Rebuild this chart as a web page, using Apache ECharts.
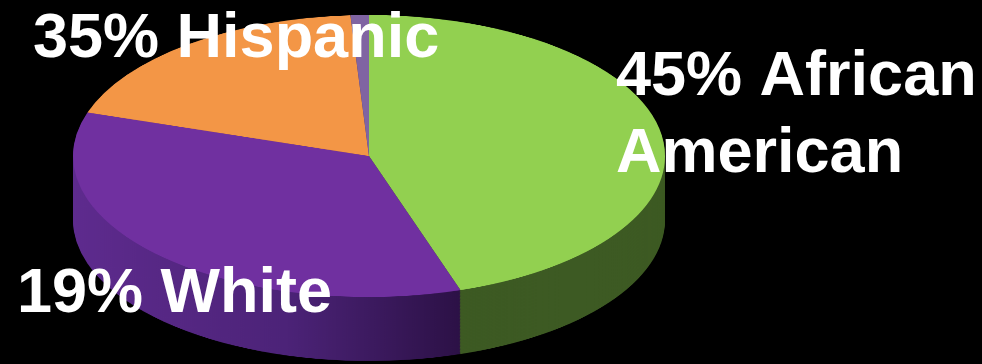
<!DOCTYPE html>
<html>
<head>
<meta charset="utf-8">
<script src="https://cdn.jsdelivr.net/npm/echarts@6/dist/echarts.min.js"></script>
<style>
html,body{margin:0;padding:0;background:#000;width:982px;height:364px;overflow:hidden;}
#pieWrap{position:absolute;left:0;top:0;width:982px;height:364px;overflow:hidden;}
#pie{position:absolute;left:0;top:0;width:982px;transform-origin:0 0;}
#txt{position:absolute;left:0;top:0;width:982px;height:364px;}
</style>
</head>
<body>
<div id="pieWrap"><div id="pie"></div></div>
<div id="txt"></div>
<script>
// Data (clockwise from 12 o'clock)
var categories = ['African American', 'White', 'Hispanic', 'Other'];
var values = [45, 35, 19, 1];
var topColors = ['#92d050', '#7030a0', '#f39646', '#8064a2'];
var labelTexts = ['35% Hispanic', '45% African', 'American', '19% White'];

// geometry (screen px)
var S = 141 / 296;            // vertical squash of the tilted disc
var CX = 369, CY = 156, R = 296, THICK = 64;

var pieEl = document.getElementById('pie');
pieEl.style.height = (364 / S) + 'px';
pieEl.style.transform = 'scaleY(' + S + ')';

var sideColors = [
  '#3d5a23',
  {type:'linear', x:0, y:0, x2:1, y2:0, colorStops:[
    {offset:0, color:'#5e2b8e'}, {offset:0.55, color:'#4c2378'}, {offset:1, color:'#2c1146'}]},
  '#8a5128',
  '#4a3a66'
];

function makeData(colors) {
  return categories.map(function (c, i) {
    return { name: c, value: values[i], itemStyle: { color: colors[i] } };
  });
}

var series = [];
var cyU = CY / S, thickU = THICK / S;
var step = 3;
for (var off = thickU; off > 0; off -= step) {
  series.push({
    type: 'pie', silent: true, animation: false,
    center: [CX, cyU + off], radius: R, startAngle: 90, clockwise: true,
    label: { show: false }, labelLine: { show: false },
    itemStyle: { borderWidth: 0 },
    data: makeData(sideColors)
  });
}
series.push({
  type: 'pie', silent: true, animation: false,
  center: [CX, cyU], radius: R, startAngle: 90, clockwise: true,
  label: { show: false }, labelLine: { show: false },
  itemStyle: { borderWidth: 0 },
  data: makeData(topColors)
});

var pieChart = echarts.init(pieEl, null, { renderer: 'canvas' });
pieChart.setOption({ backgroundColor: '#000', animation: false, series: series });

var txtChart = echarts.init(document.getElementById('txt'), null, { renderer: 'canvas' });
var font = 'bold 63px "Liberation Sans", Arial, sans-serif';
var pos = [[33, 40], [616, 78], [616, 155], [17, 295]];
txtChart.setOption({
  backgroundColor: 'transparent',
  animation: false,
  graphic: labelTexts.map(function (t, i) {
    return {
      type: 'text', left: pos[i][0], top: pos[i][1] - 32, silent: true,
      style: { text: t, font: font, fill: '#ffffff' }
    };
  })
});
</script>
</body>
</html>
